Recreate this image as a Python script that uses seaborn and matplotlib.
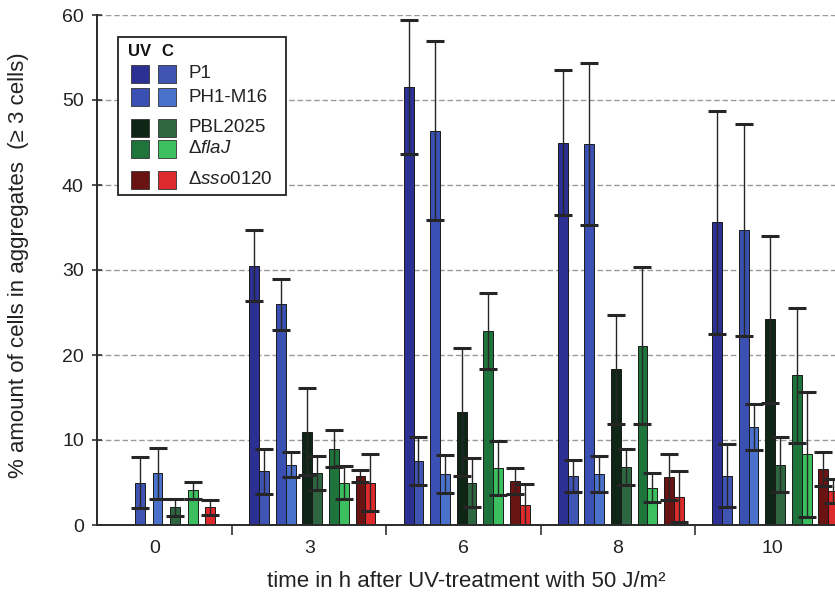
import numpy as np
import matplotlib
matplotlib.use("Agg")
import matplotlib.pyplot as plt
import seaborn as sns
from matplotlib.patches import Rectangle

# time points (h after UV) and strains
times = ["0", "3", "6", "8", "10"]
strains = ["P1", "PH1-M16", "PBL2025", "flaJ", "sso0120"]
legend_labels = ["P1", "PH1-M16", "PBL2025", r"Δ$\mathit{flaJ}$", r"Δ$\mathit{sso0120}$"]

# UV treated cultures (no UV bar at t=0)
uv_p1 = [np.nan, 30.5, 51.5, 45.0, 35.6]
uv_ph1 = [np.nan, 26.0, 46.4, 44.8, 34.7]
uv_pbl = [np.nan, 11.0, 13.3, 18.3, 24.2]
uv_flaj = [np.nan, 9.0, 22.8, 21.1, 17.6]
uv_sso = [np.nan, 5.8, 5.2, 5.6, 6.6]

uv_p1_err = [np.nan, 4.2, 7.9, 8.5, 13.1]
uv_ph1_err = [np.nan, 3.0, 10.5, 9.5, 12.5]
uv_pbl_err = [np.nan, 5.1, 7.5, 6.4, 9.8]
uv_flaj_err = [np.nan, 2.2, 4.5, 9.2, 7.9]
uv_sso_err = [np.nan, 0.7, 1.5, 2.7, 2.0]

# untreated controls
c_p1 = [5.0, 6.3, 7.5, 5.8, 5.8]
c_ph1 = [6.1, 7.1, 6.0, 6.0, 11.5]
c_pbl = [2.1, 6.1, 5.0, 6.8, 7.1]
c_flaj = [4.1, 5.0, 6.7, 4.4, 8.3]
c_sso = [2.1, 5.0, 2.3, 3.3, 4.0]

c_p1_err = [3.0, 2.6, 2.8, 1.9, 3.7]
c_ph1_err = [3.0, 1.5, 2.2, 2.1, 2.7]
c_pbl_err = [1.0, 2.0, 2.9, 2.1, 3.2]
c_flaj_err = [1.0, 1.9, 3.2, 1.7, 7.4]
c_sso_err = [0.9, 3.3, 2.5, 3.0, 1.4]

uv_vals = [uv_p1, uv_ph1, uv_pbl, uv_flaj, uv_sso]
uv_errs = [uv_p1_err, uv_ph1_err, uv_pbl_err, uv_flaj_err, uv_sso_err]
c_vals = [c_p1, c_ph1, c_pbl, c_flaj, c_sso]
c_errs = [c_p1_err, c_ph1_err, c_pbl_err, c_flaj_err, c_sso_err]

uv_colors = ["#2c3092", "#3a50b2", "#0f2617", "#1e743b", "#691313"]
c_colors = ["#4054b4", "#4a72cc", "#2d6640", "#3cbf5e", "#de2a2c"]

sns.set_theme(style="white")
plt.rcParams["font.family"] = ["Liberation Sans", "DejaVu Sans"]
plt.rcParams["mathtext.fontset"] = "custom"
plt.rcParams["mathtext.rm"] = "Liberation Sans"
plt.rcParams["mathtext.it"] = "Liberation Sans:italic"

W, H = 835, 598
fig = plt.figure(figsize=(W / 100, H / 100), dpi=100)
ax = fig.add_axes([97 / W, 73 / H, 738 / W, 510 / H])


def P(px, py):
    return px / W, 1 - py / H


x = np.arange(len(times))
bw = 0.064
pair_off = (np.arange(5) - 2) * 0.172 + 0.02
zero_off = np.arange(5) * 0.1135 - 0.097
err_kw = dict(fmt="none", ecolor="#262626", elinewidth=1.0, capsize=6.5, capthick=2.2, zorder=3)

for i in range(len(strains)):
    ux = x + pair_off[i] - bw / 2
    cx = x + pair_off[i] + bw / 2
    cx[0] = zero_off[i]
    ax.bar(ux, uv_vals[i], width=bw, color=uv_colors[i], edgecolor="#1a1a1a", linewidth=0.7, zorder=2)
    ax.errorbar(ux, uv_vals[i], yerr=uv_errs[i], **err_kw)
    ax.bar(cx, c_vals[i], width=bw, color=c_colors[i], edgecolor="#1a1a1a", linewidth=0.7, zorder=2)
    ax.errorbar(cx, c_vals[i], yerr=c_errs[i], **err_kw)

ax.set_xlim(-0.376, 4.408)
ax.set_ylim(0, 60)
ax.set_yticks(np.arange(0, 61, 10))
ax.set_xticks(x)
ax.set_xticklabels(times)
ax.set_xticks(x[:-1] + 0.5, minor=True)
ax.tick_params(axis="x", which="major", length=0, pad=11, labelsize=14, colors="#222")
ax.tick_params(axis="x", which="minor", direction="out", length=7, width=1.2, color="#333", bottom=True)
ax.tick_params(axis="y", direction="inout", length=7, width=1.2, color="#333", pad=6, labelsize=14,
               left=True, labelcolor="#222")
ax.yaxis.grid(True, linestyle=(0, (4, 2)), color="#9a9a9a", linewidth=1.0, zorder=0)
ax.set_axisbelow(True)
for side in ["top", "right"]:
    ax.spines[side].set_visible(False)
for side in ["left", "bottom"]:
    ax.spines[side].set_color("#2a2a2a")
    ax.spines[side].set_linewidth(1.4)

ax.set_ylabel("% amount of cells in aggregates  (\u2265 3 cells)", fontsize=16, color="#222")
ax.yaxis.set_label_coords(-(97 - 29) / 738, 0.51)
ax.set_xlabel("time in h after UV-treatment with 50 J/m\u00b2", fontsize=16, color="#222")
ax.xaxis.set_label_coords(0.5, -(571 - 525) / 510)

# legend box drawn by hand (UV / C swatch pairs)
fig.patches.append(Rectangle(P(118, 195), 168 / W, 158 / H, transform=fig.transFigure,
                             facecolor="white", edgecolor="#222", linewidth=1.3, zorder=5))
fig.text(*P(140, 51), "UV", transform=fig.transFigure, ha="center", va="center",
         fontsize=12, fontweight="bold", color="#111", zorder=6)
fig.text(*P(167, 51), "C", transform=fig.transFigure, ha="center", va="center",
         fontsize=12, fontweight="bold", color="#111", zorder=6)
row_y = [74, 97, 127.5, 149, 179.5]
sq = 18
for i, lab in enumerate(legend_labels):
    for cx_px, col in [(140, uv_colors[i]), (167, c_colors[i])]:
        fig.patches.append(Rectangle(P(cx_px - sq / 2, row_y[i] + sq / 2), sq / W, sq / H,
                                     transform=fig.transFigure, facecolor=col,
                                     edgecolor="#333", linewidth=0.6, zorder=6))
    fig.text(*P(188, row_y[i]), lab, transform=fig.transFigure, ha="left", va="center",
             fontsize=13.5, color="#222", zorder=6)

fig.savefig("out.png", dpi=100)
